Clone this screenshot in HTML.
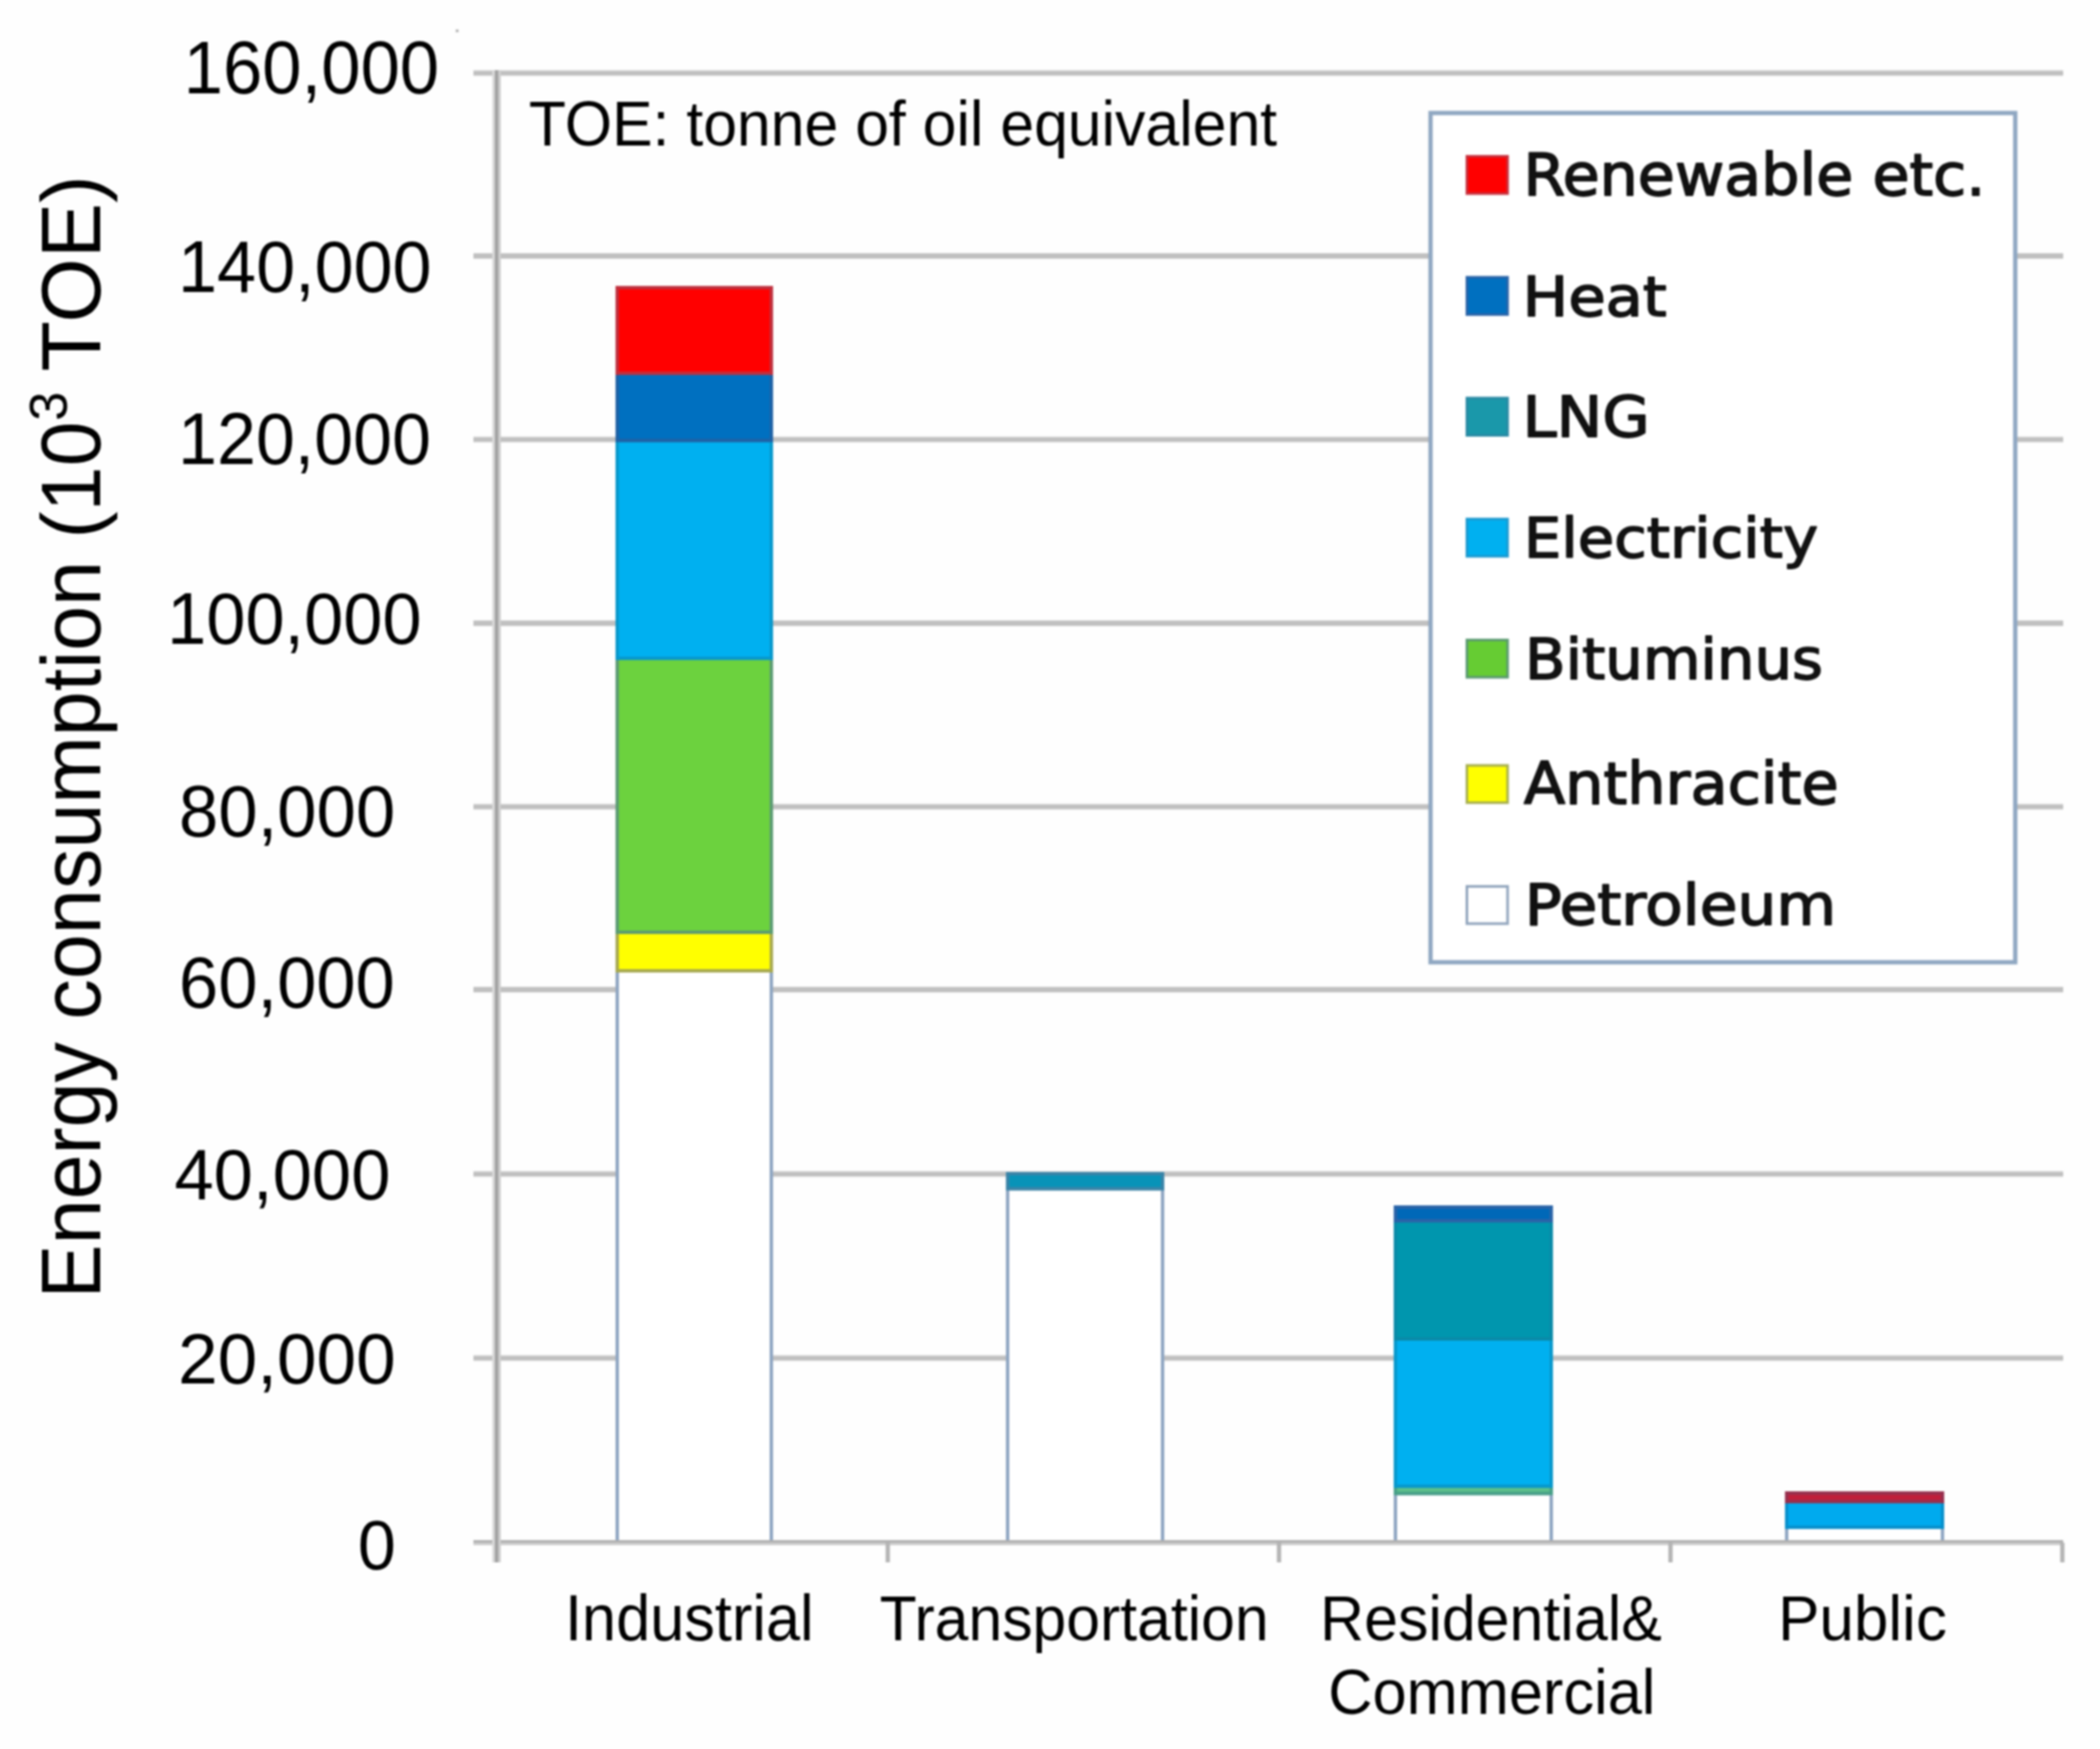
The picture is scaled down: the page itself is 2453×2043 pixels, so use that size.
<!DOCTYPE html>
<html><head><meta charset="utf-8"><title>Energy consumption chart</title>
<style>html,body{margin:0;padding:0;background:#fefefe;width:2453px;height:2043px;overflow:hidden}</style>
</head><body>
<div style="filter:blur(1px)">
<svg width='2453' height='2043' viewBox='0 0 2453 2043' style='display:block'><rect x='0' y='0' width='2453' height='2043' fill='#fefefe'/>
<rect x='532.5' y='34.5' width='3' height='3' fill='#a8a8a8'/>
<rect x='553' y='81.5' width='1857' height='1' fill='#f2f2f2'/>
<rect x='553' y='82.5' width='1857' height='6' fill='#c0c0c0'/>
<rect x='553' y='88.5' width='1857' height='1' fill='#f4f4f4'/>
<rect x='553' y='295.0' width='1857' height='1' fill='#f2f2f2'/>
<rect x='553' y='296.0' width='1857' height='6' fill='#c0c0c0'/>
<rect x='553' y='302.0' width='1857' height='1' fill='#f4f4f4'/>
<rect x='553' y='509.5' width='1857' height='1' fill='#f2f2f2'/>
<rect x='553' y='510.5' width='1857' height='6' fill='#c0c0c0'/>
<rect x='553' y='516.5' width='1857' height='1' fill='#f4f4f4'/>
<rect x='553' y='724.0' width='1857' height='1' fill='#f2f2f2'/>
<rect x='553' y='725.0' width='1857' height='6' fill='#c0c0c0'/>
<rect x='553' y='731.0' width='1857' height='1' fill='#f4f4f4'/>
<rect x='553' y='938.5' width='1857' height='1' fill='#f2f2f2'/>
<rect x='553' y='939.5' width='1857' height='6' fill='#c0c0c0'/>
<rect x='553' y='945.5' width='1857' height='1' fill='#f4f4f4'/>
<rect x='553' y='1152.0' width='1857' height='1' fill='#f2f2f2'/>
<rect x='553' y='1153.0' width='1857' height='6' fill='#c0c0c0'/>
<rect x='553' y='1159.0' width='1857' height='1' fill='#f4f4f4'/>
<rect x='553' y='1367.5' width='1857' height='1' fill='#f2f2f2'/>
<rect x='553' y='1368.5' width='1857' height='6' fill='#c0c0c0'/>
<rect x='553' y='1374.5' width='1857' height='1' fill='#f4f4f4'/>
<rect x='553' y='1582.5' width='1857' height='1' fill='#f2f2f2'/>
<rect x='553' y='1583.5' width='1857' height='6' fill='#c0c0c0'/>
<rect x='553' y='1589.5' width='1857' height='1' fill='#f4f4f4'/>
<rect x='721' y='1134' width='180' height='668' fill='#ffffff' stroke='#8fa6c2' stroke-width='4'/>
<rect x='721' y='1089' width='180' height='45' fill='#ffff00' stroke='#a8aa50' stroke-width='4'/>
<rect x='721' y='769' width='180' height='320' fill='#6cd23e' stroke='#5c9c72' stroke-width='4'/>
<rect x='721' y='514.5' width='180' height='254.5' fill='#00b0f0' stroke='#0898cc' stroke-width='4'/>
<rect x='721' y='436' width='180' height='78.5' fill='#0070c0' stroke='#1e62a6' stroke-width='4'/>
<rect x='721' y='336' width='180' height='100' fill='#ff0000' stroke='#c0303e' stroke-width='4'/>
<rect x='1177' y='1388.5' width='181' height='413.5' fill='#ffffff' stroke='#8fa6c2' stroke-width='4'/>
<rect x='1177' y='1371' width='181' height='17.5' fill='#0893b8' stroke='#3a84a8' stroke-width='4'/>
<rect x='1630' y='1744.5' width='182' height='57.5' fill='#ffffff' stroke='#8fa6c2' stroke-width='4'/>
<rect x='1630' y='1736' width='182' height='8.5' fill='#5cc08a' stroke='#48a088' stroke-width='4'/>
<rect x='1630' y='1564' width='182' height='172' fill='#00b0f0' stroke='#0898cc' stroke-width='4'/>
<rect x='1630' y='1426' width='182' height='138' fill='#0096ae' stroke='#0a8aa8' stroke-width='4'/>
<rect x='1630' y='1410' width='182' height='16' fill='#0068b8' stroke='#2a64a8' stroke-width='4'/>
<rect x='2087' y='1784' width='182' height='18' fill='#ffffff' stroke='#8fa6c2' stroke-width='4'/>
<rect x='2087' y='1754' width='182' height='30' fill='#00aaee' stroke='#0890cc' stroke-width='4'/>
<rect x='2087' y='1744' width='182' height='10' fill='#c01e3a' stroke='#98304e' stroke-width='4'/>
<rect x='553' y='1799' width='1857' height='3' fill='#b0b0b0'/>
<rect x='553' y='1802' width='1857' height='3' fill='#cecece'/>
<rect x='575' y='82' width='3' height='1743' fill='#dadada'/>
<rect x='578' y='82' width='4' height='1743' fill='#a2a2a2'/>
<rect x='582' y='82' width='3' height='1743' fill='#cecece'/>
<rect x='1034.5' y='1802' width='5' height='23' fill='#b4b4b4'/>
<rect x='1491.5' y='1802' width='5' height='23' fill='#b4b4b4'/>
<rect x='1948.8' y='1802' width='5' height='23' fill='#b4b4b4'/>
<rect x='2406.5' y='1802' width='5' height='23' fill='#b4b4b4'/>
<rect x='1671' y='132' width='683' height='992' fill='#ffffff' stroke='#8fa7c2' stroke-width='5'/>
<rect x='1713.5' y='182.6' width='47.5' height='43.5' fill='#ff0000' stroke='#c8303c' stroke-width='3'/>
<rect x='1713.5' y='323.9' width='47.5' height='43.5' fill='#0070c0' stroke='#2a64a8' stroke-width='3'/>
<rect x='1713.5' y='465.0' width='47.5' height='43.5' fill='#1a98aa' stroke='#2a8aa4' stroke-width='3'/>
<rect x='1713.5' y='606.3' width='47.5' height='43.5' fill='#00b0f0' stroke='#1d9ad0' stroke-width='3'/>
<rect x='1713.5' y='747.6' width='47.5' height='43.5' fill='#66cc33' stroke='#5a9a70' stroke-width='3'/>
<rect x='1713.5' y='894.1' width='47.5' height='43.5' fill='#ffff00' stroke='#a8b050' stroke-width='3'/>
<rect x='1713.5' y='1035.4' width='47.5' height='43.5' fill='#ffffff' stroke='#90a4bc' stroke-width='3'/>
<text transform='translate(214.54,109.40) scale(0.9508,1)' font-family='Liberation Sans, Arial, sans-serif' font-size='86.84' fill='#000'>160,000</text>
<text transform='translate(208.06,340.90) scale(0.9573,1)' font-family='Liberation Sans, Arial, sans-serif' font-size='85.57' fill='#000'>140,000</text>
<text transform='translate(208.07,542.20) scale(0.9547,1)' font-family='Liberation Sans, Arial, sans-serif' font-size='85.57' fill='#000'>120,000</text>
<text transform='translate(195.24,751.70) scale(0.9607,1)' font-family='Liberation Sans, Arial, sans-serif' font-size='85.57' fill='#000'>100,000</text>
<text transform='translate(209.04,976.80) scale(0.9654,1)' font-family='Liberation Sans, Arial, sans-serif' font-size='85.57' fill='#000'>80,000</text>
<text transform='translate(209.04,1177.00) scale(0.9654,1)' font-family='Liberation Sans, Arial, sans-serif' font-size='85.42' fill='#000'>60,000</text>
<text transform='translate(203.64,1401.30) scale(0.9798,1)' font-family='Liberation Sans, Arial, sans-serif' font-size='84.29' fill='#000'>40,000</text>
<text transform='translate(208.05,1616.20) scale(0.9880,1)' font-family='Liberation Sans, Arial, sans-serif' font-size='84.15' fill='#000'>20,000</text>
<text transform='translate(418.00,1833.30) scale(0.9675,1)' font-family='Liberation Sans, Arial, sans-serif' font-size='82.45' fill='#000'>0</text>
<text transform='translate(659.94,1916.30) scale(0.9509,1)' font-family='Liberation Sans, Arial, sans-serif' font-size='75.31' fill='#000'>Industrial</text>
<text transform='translate(1027.60,1915.70) scale(0.9521,1)' font-family='Liberation Sans, Arial, sans-serif' font-size='74.45' fill='#000'>Transportation</text>
<text transform='translate(1542.08,1916.20) scale(0.9700,1)' font-family='Liberation Sans, Arial, sans-serif' font-size='73.30' fill='#000'>Residential&amp;</text>
<text transform='translate(1551.47,2001.60) scale(0.9572,1)' font-family='Liberation Sans, Arial, sans-serif' font-size='74.88' fill='#000'>Commercial</text>
<text transform='translate(2076.88,1916.00) scale(0.9865,1)' font-family='Liberation Sans, Arial, sans-serif' font-size='73.44' fill='#000'>Public</text>
<text transform='translate(617.79,170.00) scale(0.9548,1)' font-family='Liberation Sans, Arial, sans-serif' font-size='74.30' fill='#000'>TOE: tonne of oil equivalent</text>
<text transform='translate(1779.40,227.60) scale(1.0504,1)' font-family='DejaVu Sans, sans-serif' font-size='67.05' fill='#111' stroke='#111' stroke-width='1.8' stroke-linejoin='round'>Renewable etc.</text>
<text transform='translate(1778.53,368.90) scale(1.0932,1)' font-family='DejaVu Sans, sans-serif' font-size='64.96' fill='#111' stroke='#111' stroke-width='1.8' stroke-linejoin='round'>Heat</text>
<text transform='translate(1778.51,510.00) scale(1.0976,1)' font-family='DejaVu Sans, sans-serif' font-size='65.09' fill='#111' stroke='#111' stroke-width='1.8' stroke-linejoin='round'>LNG</text>
<text transform='translate(1780.01,651.30) scale(1.0780,1)' font-family='DejaVu Sans, sans-serif' font-size='64.18' fill='#111' stroke='#111' stroke-width='1.8' stroke-linejoin='round'>Electricity</text>
<text transform='translate(1781.23,792.60) scale(1.0548,1)' font-family='DejaVu Sans, sans-serif' font-size='65.62' fill='#111' stroke='#111' stroke-width='1.8' stroke-linejoin='round'>Bituminus</text>
<text transform='translate(1780.00,939.10) scale(1.0540,1)' font-family='DejaVu Sans, sans-serif' font-size='67.05' fill='#111' stroke='#111' stroke-width='1.8' stroke-linejoin='round'>Anthracite</text>
<text transform='translate(1781.04,1080.40) scale(1.0920,1)' font-family='DejaVu Sans, sans-serif' font-size='65.62' fill='#111' stroke='#111' stroke-width='1.8' stroke-linejoin='round'>Petroleum</text>
<text transform='translate(117.40,1516.64) rotate(-90) scale(0.9548,1)' font-family='Liberation Sans, Arial, sans-serif' font-size='99.00' fill='#000'>Energy consumption (10</text>
<text transform='translate(77.60,491.57) rotate(-90) scale(0.9860,1)' font-family='Liberation Sans, Arial, sans-serif' font-size='62.09' fill='#000'>3</text>
<text transform='translate(117.40,433.95) rotate(-90) scale(0.9762,1)' font-family='Liberation Sans, Arial, sans-serif' font-size='99.00' fill='#000'>TOE)</text></svg>
</div>
</body></html>
